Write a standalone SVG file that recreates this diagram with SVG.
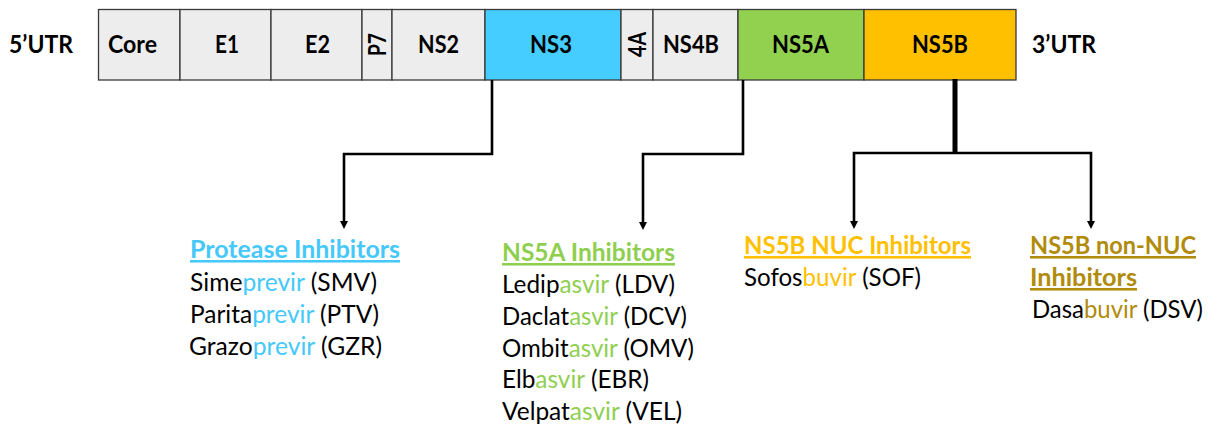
<svg xmlns="http://www.w3.org/2000/svg" width="1216" height="427" viewBox="0 0 1216 427">
  <style>
    .seg { stroke: #3a3a3a; stroke-width: 1.3; }
    .grey { fill: #ededed; }
    .lbl { font-family: Lato, "Liberation Sans", sans-serif; font-weight: bold; font-size: 25.5px; fill: #000; }
    .hd { font-family: Lato, "Liberation Sans", sans-serif; font-weight: bold; font-size: 25.5px; text-decoration: underline; }
    .item { font-family: Lato, "Liberation Sans", sans-serif; font-size: 25.5px; fill: #000; }
    .wire { fill: none; stroke: #000; stroke-width: 2.6; }
    .blue { fill: #45c8fa; }
    .green { fill: #8fcf50; }
    .gold { fill: #ffc000; }
    .bronze { fill: #b08b0c; }
  </style>
  <defs>
    <marker id="arrow" viewBox="0 0 10 10" refX="0" refY="5" markerWidth="8" markerHeight="9" markerUnits="userSpaceOnUse" orient="auto">
      <path d="M0,0 L10,5 L0,10 z" fill="#000"/>
    </marker>
  </defs>

  <!-- untranslated regions -->
  <text class="lbl" x="9" y="53" textLength="64" lengthAdjust="spacingAndGlyphs">5’UTR</text>
  <text class="lbl" x="1032" y="53" textLength="64" lengthAdjust="spacingAndGlyphs">3’UTR</text>

  <!-- polyprotein segments -->
  <g id="core"><rect class="seg grey" x="98.5" y="9.5" width="81.5" height="70.5"/><text class="lbl" x="132.5" y="53" text-anchor="middle" textLength="49" lengthAdjust="spacingAndGlyphs">Core</text></g>
  <g id="e1"><rect class="seg grey" x="180" y="9.5" width="91" height="70.5"/><text class="lbl" x="227" y="53" text-anchor="middle" textLength="24" lengthAdjust="spacingAndGlyphs">E1</text></g>
  <g id="e2"><rect class="seg grey" x="271" y="9.5" width="91" height="70.5"/><text class="lbl" x="317.5" y="53" text-anchor="middle" textLength="25" lengthAdjust="spacingAndGlyphs">E2</text></g>
  <g id="p7"><rect class="seg grey" x="362" y="9.5" width="30" height="70.5"/><text class="lbl" transform="translate(385.5,44.5) rotate(-90)" x="0" y="0" text-anchor="middle" textLength="23" lengthAdjust="spacingAndGlyphs">P7</text></g>
  <g id="ns2"><rect class="seg grey" x="392" y="9.5" width="93" height="70.5"/><text class="lbl" x="438.5" y="53" text-anchor="middle" textLength="41" lengthAdjust="spacingAndGlyphs">NS2</text></g>
  <g id="ns3"><rect class="seg" fill="#45cdff" x="485" y="9.5" width="136" height="70.5"/><text class="lbl" x="551" y="53" text-anchor="middle" textLength="42" lengthAdjust="spacingAndGlyphs">NS3</text></g>
  <g id="ns4a"><rect class="seg grey" x="621" y="9.5" width="32" height="70.5"/><text class="lbl" transform="translate(645.5,44.5) rotate(-90)" x="0" y="0" text-anchor="middle" textLength="25" lengthAdjust="spacingAndGlyphs">4A</text></g>
  <g id="ns4b"><rect class="seg grey" x="653" y="9.5" width="85" height="70.5"/><text class="lbl" x="691" y="53" text-anchor="middle" textLength="56" lengthAdjust="spacingAndGlyphs">NS4B</text></g>
  <g id="ns5a"><rect class="seg" fill="#92d050" x="738" y="9.5" width="126" height="70.5"/><text class="lbl" x="800.5" y="53" text-anchor="middle" textLength="57" lengthAdjust="spacingAndGlyphs">NS5A</text></g>
  <g id="ns5b"><rect class="seg" fill="#ffc000" x="864" y="9.5" width="152" height="70.5"/><text class="lbl" x="940" y="53" text-anchor="middle" textLength="56" lengthAdjust="spacingAndGlyphs">NS5B</text></g>

  <!-- connectors -->
  <g id="connectors">
    <path class="wire" d="M492,80 V154 H344 V221" marker-end="url(#arrow)"/>
    <path class="wire" d="M743,80 V154 H643 V222" marker-end="url(#arrow)"/>
    <path class="wire" d="M955,79 V153" style="stroke-width:5"/>
    <path class="wire" d="M955,153 H854 V221" marker-end="url(#arrow)"/>
    <path class="wire" d="M955,153 H1091 V221" marker-end="url(#arrow)"/>
  </g>

  <!-- drug classes -->
  <g id="protease-inhibitors">
    <text class="hd blue" x="190" y="258" textLength="210" lengthAdjust="spacingAndGlyphs">Protease Inhibitors</text>
    <text class="item" x="190" y="291" textLength="187" lengthAdjust="spacingAndGlyphs">Sime<tspan class="blue">previr</tspan> (SMV)</text>
    <text class="item" x="190" y="323" textLength="189" lengthAdjust="spacingAndGlyphs">Parita<tspan class="blue">previr</tspan> (PTV)</text>
    <text class="item" x="189" y="355" textLength="193" lengthAdjust="spacingAndGlyphs">Grazo<tspan class="blue">previr</tspan> (GZR)</text>
  </g>
  <g id="ns5a-inhibitors">
    <text class="hd green" x="502" y="261" textLength="173" lengthAdjust="spacingAndGlyphs">NS5A Inhibitors</text>
    <text class="item" x="502" y="293" textLength="173" lengthAdjust="spacingAndGlyphs">Ledip<tspan class="green">asvir</tspan> (LDV)</text>
    <text class="item" x="502" y="325" textLength="185" lengthAdjust="spacingAndGlyphs">Daclat<tspan class="green">asvir</tspan> (DCV)</text>
    <text class="item" x="502" y="357" textLength="192" lengthAdjust="spacingAndGlyphs">Ombit<tspan class="green">asvir</tspan> (OMV)</text>
    <text class="item" x="502" y="388" textLength="147" lengthAdjust="spacingAndGlyphs">Elb<tspan class="green">asvir</tspan> (EBR)</text>
    <text class="item" x="502" y="420" textLength="180" lengthAdjust="spacingAndGlyphs">Velpat<tspan class="green">asvir</tspan> (VEL)</text>
  </g>
  <g id="ns5b-nuc-inhibitors">
    <text class="hd gold" x="744" y="254" textLength="227" lengthAdjust="spacingAndGlyphs">NS5B NUC Inhibitors</text>
    <text class="item" x="744" y="286" textLength="177" lengthAdjust="spacingAndGlyphs">Sofos<tspan class="gold">buvir</tspan> (SOF)</text>
  </g>
  <g id="ns5b-non-nuc-inhibitors">
    <text class="hd bronze" x="1030" y="254" textLength="166" lengthAdjust="spacingAndGlyphs">NS5B non-NUC</text>
    <text class="hd bronze" x="1030" y="286" textLength="107" lengthAdjust="spacingAndGlyphs">Inhibitors</text>
    <text class="item" x="1032" y="318" textLength="171" lengthAdjust="spacingAndGlyphs">Dasa<tspan class="bronze">buvir</tspan> (DSV)</text>
  </g>
</svg>
